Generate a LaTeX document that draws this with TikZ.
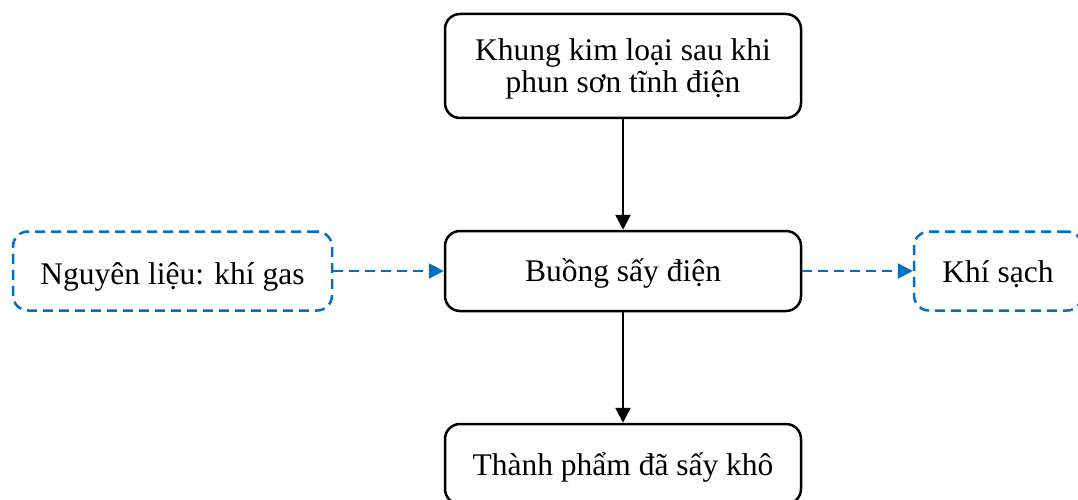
\documentclass[tikz,border=0pt]{standalone}
\usepackage{fontspec}
\setmainfont{Liberation Serif}
\usetikzlibrary{arrows.meta}
\definecolor{flowblue}{HTML}{0070C0}
\tikzset{
  procbox/.style={draw=black, line width=2.5pt, rounded corners=15pt, align=center, font=\fontsize{31.5}{32}\selectfont, inner sep=0pt},
  ioblock/.style={draw=flowblue, line width=2.5pt, dash pattern=on 10pt off 6pt, rounded corners=15pt, align=center, font=\fontsize{31.5}{32}\selectfont, inner sep=0pt},
  solidarrow/.style={draw=black, line width=2.5pt, -{Triangle[length=15pt,width=15pt]}},
  dasharrow/.style={draw=flowblue, line width=2.5pt, dash pattern=on 10pt off 6pt, -{Triangle[length=15pt,width=15pt]}}
}
\begin{document}
\begin{tikzpicture}[x=1pt,y=-1pt]
\useasboundingbox (0,0) rectangle (1078,500);
\node[procbox, minimum width=356pt, minimum height=104pt] (top) at (623,66) {\rule{0pt}{28pt}Khung kim loại sau khi\\phun sơn tĩnh điện};
\node[procbox, text height=29.5pt, text depth=8pt, minimum width=356pt, minimum height=80pt] (mid) at (623,271) {Buồng sấy điện};
\node[procbox, text height=30pt, text depth=8pt, minimum width=356pt, minimum height=80pt] (bot) at (623,464) {Thành phẩm đã sấy khô};
\node[ioblock, text height=35pt, text depth=8pt, minimum width=319pt, minimum height=79pt] (left) at (172.5,271) {Nguyên liệu: khí gas};
\node[ioblock, text height=31.5pt, text depth=8pt, minimum width=168pt, minimum height=79pt] (right) at (998,271) {Khí sạch};
\draw[solidarrow] (top) -- (mid);
\draw[solidarrow] (mid) -- (bot);
\draw[dasharrow] (left) -- (mid);
\draw[dasharrow] (mid) -- (right);
\end{tikzpicture}
\end{document}
